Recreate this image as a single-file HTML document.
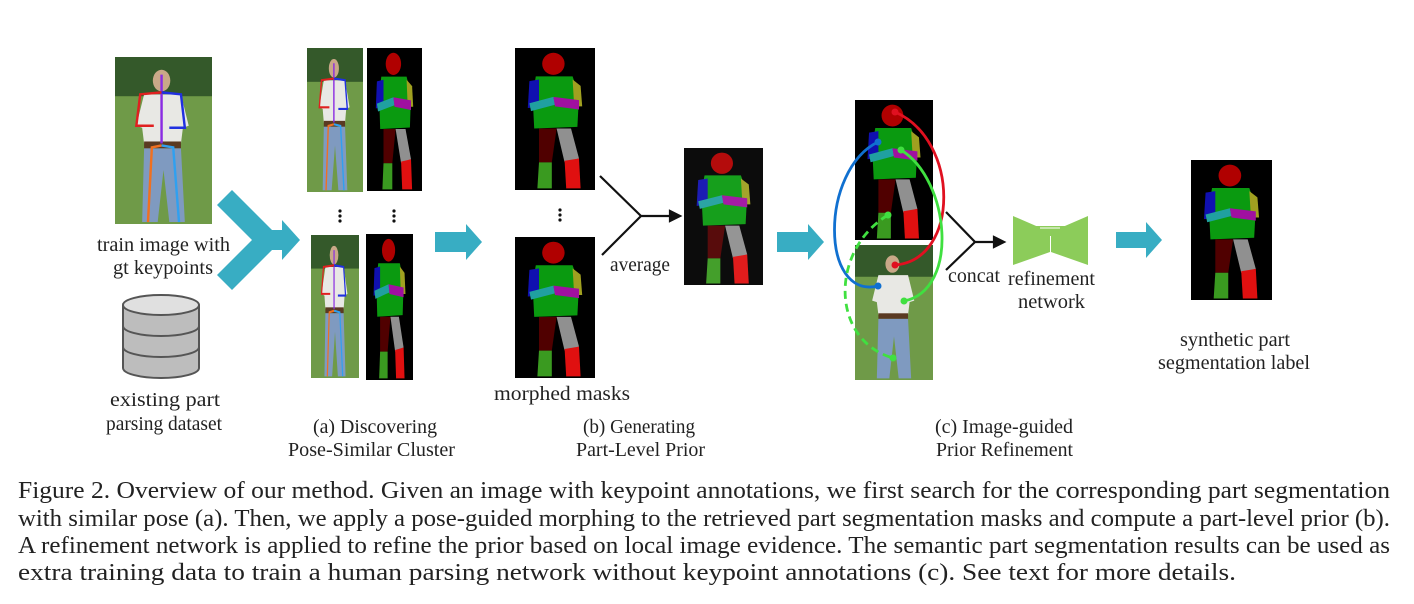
<!DOCTYPE html>
<html><head><meta charset="utf-8">
<style>
html,body{margin:0;padding:0;background:#fff;}
svg{display:block;}
text{font-family:"Liberation Serif","Times New Roman","DejaVu Serif",serif;fill:#222;}
</style></head>
<body>
<svg width="1414" height="604" viewBox="0 0 1414 604" xmlns="http://www.w3.org/2000/svg">
<defs>
  <symbol id="mask" viewBox="0 0 100 180" preserveAspectRatio="none">
    <rect width="100" height="180" fill="#000"/>
    <ellipse cx="48" cy="20" rx="14" ry="14" fill="#b00000"/>
    <path d="M26,36 L72,36 L80,60 L78,100 L24,102 L22,60 Z" fill="#0a9a10"/>
    <path d="M18,42 L30,40 L30,75 L16,76 Z" fill="#1010b0"/>
    <path d="M72,40 L82,48 L84,74 L74,74 Z" fill="#a0a020"/>
    <path d="M18,70 L48,62 L50,72 L20,80 Z" fill="#20a0a0"/>
    <path d="M48,62 L80,66 L80,78 L50,74 Z" fill="#a010a0"/>
    <path d="M30,102 L52,102 L46,145 L30,145 Z" fill="#500000"/>
    <path d="M52,102 L70,102 L80,140 L62,145 Z" fill="#909090"/>
    <path d="M30,145 L46,145 L46,178 L28,178 Z" fill="#3a9a20"/>
    <path d="M62,143 L80,140 L82,178 L64,178 Z" fill="#e01010"/>
  </symbol>
  <symbol id="photo" viewBox="0 0 100 170" preserveAspectRatio="none">
    <rect width="100" height="170" fill="#5e8a3a"/>
    <rect width="100" height="40" fill="#34592a"/>
    <rect x="0" y="40" width="100" height="130" fill="#6f9a48"/>
    <ellipse cx="48" cy="24" rx="9" ry="11" fill="#c9a888"/>
    <path d="M30,38 L68,38 L76,70 L70,72 L68,88 L30,88 L28,72 L22,70 Z" fill="#e8e8e4"/>
    <rect x="30" y="86" width="38" height="7" fill="#5a3a22"/>
    <path d="M30,93 L68,93 L72,168 L56,168 L50,115 L44,168 L28,168 Z" fill="#7f9ac0"/>
    <path d="M48,18 L48,88" stroke="#8a2be2" stroke-width="2.5"/>
    <path d="M48,36 L26,38 L22,70 L40,70" stroke="#e02020" stroke-width="2.5" fill="none"/>
    <path d="M48,36 L68,38 L72,72 L56,72" stroke="#2030e0" stroke-width="2.5" fill="none"/>
    <path d="M48,90 L38,92 L34,168" stroke="#f07020" stroke-width="2.5" fill="none"/>
    <path d="M48,90 L60,92 L66,168" stroke="#30a0f0" stroke-width="2.5" fill="none"/>
  </symbol>
  <symbol id="photoplain" viewBox="0 0 100 170" preserveAspectRatio="none">
    <rect width="100" height="170" fill="#6f9a48"/>
    <rect width="100" height="40" fill="#34592a"/>
    <ellipse cx="48" cy="24" rx="9" ry="11" fill="#c9a888"/>
    <path d="M30,38 L68,38 L76,70 L70,72 L68,88 L30,88 L28,72 L22,70 Z" fill="#e8e8e4"/>
    <rect x="30" y="86" width="38" height="7" fill="#5a3a22"/>
    <path d="M30,93 L68,93 L72,168 L56,168 L50,115 L44,168 L28,168 Z" fill="#7f9ac0"/>
  </symbol>
</defs>

<use href="#photo" x="115" y="57" width="97" height="167"/>
<g font-size="20" lengthAdjust="spacingAndGlyphs">
<text x="97" y="251" textLength="133" lengthAdjust="spacingAndGlyphs">train image with</text>
<text x="113" y="274" textLength="100" lengthAdjust="spacingAndGlyphs">gt keypoints</text>
<text x="110" y="406" textLength="110" lengthAdjust="spacingAndGlyphs">existing part</text>
<text x="106" y="430" textLength="116" lengthAdjust="spacingAndGlyphs">parsing dataset</text>
<text x="313" y="433" textLength="124" lengthAdjust="spacingAndGlyphs">(a) Discovering</text>
<text x="288" y="456" textLength="167" lengthAdjust="spacingAndGlyphs">Pose-Similar Cluster</text>
<text x="494" y="400" textLength="136" lengthAdjust="spacingAndGlyphs">morphed masks</text>
<text x="610" y="271" textLength="60" lengthAdjust="spacingAndGlyphs">average</text>
<text x="583" y="433" textLength="112" lengthAdjust="spacingAndGlyphs">(b) Generating</text>
<text x="576" y="456" textLength="129" lengthAdjust="spacingAndGlyphs">Part-Level Prior</text>
<text x="948" y="282" textLength="52" lengthAdjust="spacingAndGlyphs">concat</text>
<text x="1008" y="285" textLength="87" lengthAdjust="spacingAndGlyphs">refinement</text>
<text x="1018" y="308" textLength="67" lengthAdjust="spacingAndGlyphs">network</text>
<text x="935" y="433" textLength="138" lengthAdjust="spacingAndGlyphs">(c) Image-guided</text>
<text x="936" y="456" textLength="137" lengthAdjust="spacingAndGlyphs">Prior Refinement</text>
<text x="1180" y="346" textLength="110" lengthAdjust="spacingAndGlyphs">synthetic part</text>
<text x="1158" y="369" textLength="152" lengthAdjust="spacingAndGlyphs">segmentation label</text>
</g>

<g>
  <path d="M123,305 L123,368 A38,10 0 0 0 199,368 L199,305" fill="#bdbdbd" stroke="#555" stroke-width="2"/>
  <ellipse cx="161" cy="305" rx="38" ry="10" fill="#e0e0e0" stroke="#555" stroke-width="2"/>
  <path d="M123,326 A38,10 0 0 0 199,326 M123,347 A38,10 0 0 0 199,347" fill="none" stroke="#555" stroke-width="2"/>
</g>

<g fill="#38adc3">
  <path d="M217,205 L232,190 L272,230 L282,230 L282,220 L300,240 L282,260 L282,250 L272,250 L232,290 L217,275 L252,240 Z"/>
</g>

<use href="#photo" x="307" y="48" width="56" height="144"/>
<use href="#mask" x="367" y="48" width="55" height="143"/>
<use href="#photo" x="311" y="235" width="48" height="143"/>
<use href="#mask" x="366" y="234" width="47" height="146"/>
<g fill="#111">
  <circle cx="340" cy="211" r="1.6"/><circle cx="340" cy="216" r="1.6"/><circle cx="340" cy="221" r="1.6"/>
  <circle cx="394" cy="211" r="1.6"/><circle cx="394" cy="216" r="1.6"/><circle cx="394" cy="221" r="1.6"/>
</g>

<path d="M435,232 L466,232 L466,224 L482,242 L466,260 L466,252 L435,252 Z" fill="#38adc3"/>

<use href="#mask" x="515" y="48" width="80" height="142"/>
<use href="#mask" x="515" y="237" width="80" height="141"/>
<g fill="#111">
  <circle cx="560" cy="210" r="1.6"/><circle cx="560" cy="215" r="1.6"/><circle cx="560" cy="220" r="1.6"/>
</g>
<g stroke="#111" stroke-width="2.2" fill="none">
  <path d="M600,176 L641,216 L602,255 M641,216 L672,216"/>
  <path d="M670,211 L680,216 L670,221 Z" fill="#111"/>
</g>
<use href="#mask" x="684" y="148" width="79" height="137" opacity="0.95"/>

<path d="M777,232 L808,232 L808,224 L824,242 L808,260 L808,252 L777,252 Z" fill="#38adc3"/>

<use href="#mask" x="855" y="100" width="78" height="140"/>
<use href="#photoplain" x="855" y="245" width="78" height="135"/>
<g fill="none" stroke-width="2.8">
  <path d="M878,142 C820,170 820,300 878,286" stroke="#1070d0"/>
  <circle cx="878" cy="142" r="3.5" fill="#1070d0" stroke="none"/>
  <circle cx="878" cy="286" r="3.5" fill="#1070d0" stroke="none"/>
  <path d="M895,112 C960,140 960,260 895,265" stroke="#e01020"/>
  <circle cx="895" cy="112" r="3.5" fill="#e01020" stroke="none"/>
  <circle cx="895" cy="265" r="3.5" fill="#e01020" stroke="none"/>
  <path d="M901,150 C950,180 960,290 904,301" stroke="#40e040"/>
  <circle cx="901" cy="150" r="3.5" fill="#40e040" stroke="none"/>
  <circle cx="904" cy="301" r="3.5" fill="#40e040" stroke="none"/>
  <path d="M888,215 C830,250 830,340 893,358" stroke="#40e040" stroke-dasharray="8,5"/>
  <circle cx="888" cy="215" r="3.5" fill="#40e040" stroke="none"/>
  <circle cx="893" cy="358" r="3.5" fill="#40e040" stroke="none"/>
</g>
<g stroke="#111" stroke-width="2.2" fill="none">
  <path d="M946,212 L975,242 L946,270 M975,242 L996,242"/>
  <path d="M994,237 L1004,242 L994,247 Z" fill="#111"/>
</g>
<g>
  <path d="M1013,216 L1050,232 L1050,252 L1013,265 Z M1088,216 L1051,232 L1051,252 L1088,265 Z" fill="#8ccc5a"/>
  <path d="M1032,226 L1069,226 L1052,236 L1050,236 Z" fill="#8ccc5a"/>
  <path d="M1034,224 L1066,224 M1040,228 L1060,228" stroke="#fff" stroke-width="1"/>
</g>

<path d="M1116,232 L1146,232 L1146,222 L1162,240 L1146,258 L1146,248 L1116,248 Z" fill="#38adc3"/>
<use href="#mask" x="1191" y="160" width="81" height="140"/>

<g font-size="24">
  <text x="18" y="498" textLength="1372" lengthAdjust="spacingAndGlyphs">Figure 2. Overview of our method.  Given an image with keypoint annotations, we first search for the corresponding part segmentation</text>
  <text x="18" y="526" textLength="1372" lengthAdjust="spacingAndGlyphs">with similar pose (a). Then, we apply a pose-guided morphing to the retrieved part segmentation masks and compute a part-level prior (b).</text>
  <text x="18" y="553" textLength="1372" lengthAdjust="spacingAndGlyphs">A refinement network is applied to refine the prior based on local image evidence. The semantic part segmentation results can be used as</text>
  <text x="18" y="580" textLength="1218" lengthAdjust="spacingAndGlyphs">extra training data to train a human parsing network without keypoint annotations (c). See text for more details.</text>
</g>
</svg>
</body></html>
